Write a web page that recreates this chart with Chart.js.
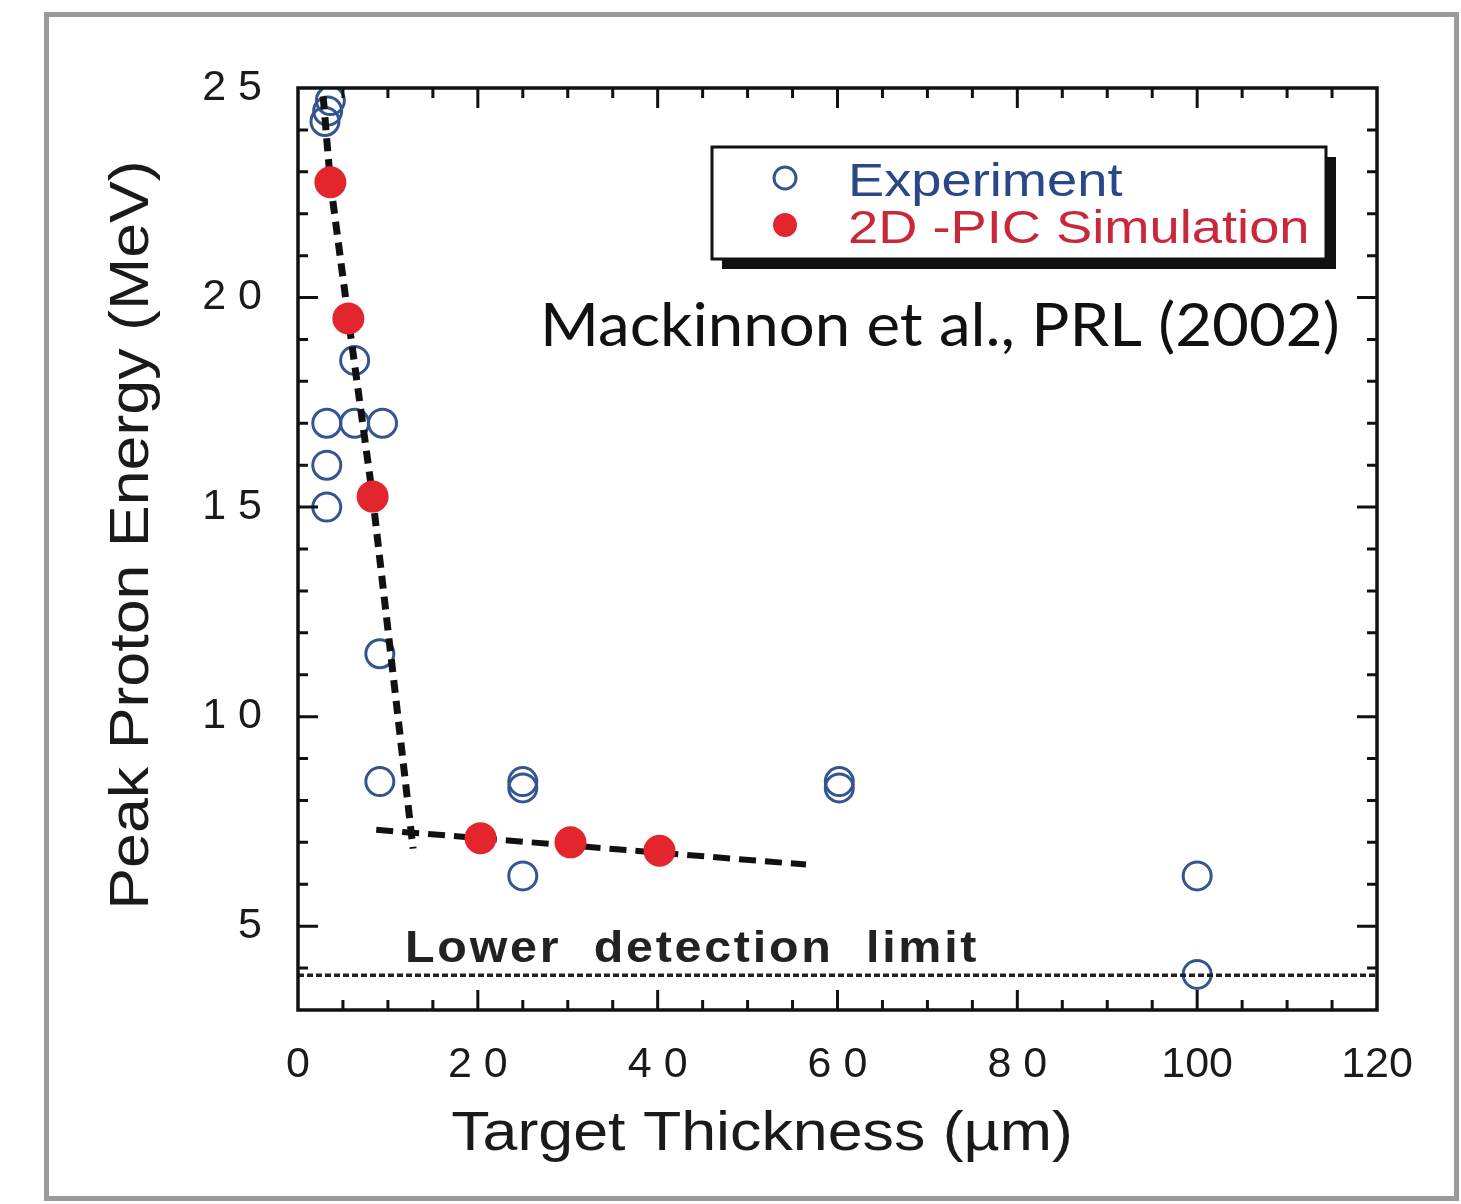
<!DOCTYPE html>
<html>
<head>
<meta charset="utf-8">
<script src="https://cdn.jsdelivr.net/npm/chart.js@4.4.1/dist/chart.umd.min.js"></script>
<style>
  html, body { margin: 0; padding: 0; background: #fff; }
  canvas { display: block; }
</style>
</head>
<body>
<canvas id="proton-chart" width="1461" height="1204"></canvas>
<script>
// values
const expX = [3.0, 3.3, 3.6, 6.3, 3.2, 6.3, 9.4, 3.2, 3.2, 9.1, 9.1, 25.0, 25.0, 25.0, 60.2, 60.2, 100.0, 100.0];
const expY = [24.2, 24.45, 24.7, 18.5, 17.0, 17.0, 17.0, 16.0, 15.0, 11.5, 8.45, 8.45, 8.3, 6.2, 8.45, 8.3, 6.2, 3.85];

const simX = [3.6, 5.6, 8.3, 20.3, 30.3, 40.2];
const simY = [22.75, 19.5, 15.25, 7.1, 7.0, 6.8];

// dashed guide lines
const steepX = [2.8, 3.6, 5.6, 8.3, 12.8];
const steepY = [24.8, 22.75, 19.5, 15.25, 6.85];
const flatX = [8.7, 56.5];
const flatY = [7.3, 6.47];

const limitX = [0, 120];
const limitY = [3.83, 3.83];

const xTickValues = [0, 20, 40, 60, 80, 100, 120];
const xTickLabels = ['0', '2 0', '4 0', '6 0', '8 0', '100', '120'];
const yTickValues = [5, 10, 15, 20, 25];
const yTickLabels = ['5', '1 0', '1 5', '2 0', '2 5'];

const toPoints = (xs, ys) => xs.map((x, i) => ({ x: x, y: ys[i] }));

const FONT = '"Liberation Sans", Arial, Helvetica, sans-serif';

function stretchText(ctx, text, x, y, sx, rot) {
	ctx.save();
	ctx.translate(x, y);
	if (rot) ctx.rotate(rot);
	ctx.scale(sx, 1);
	ctx.fillText(text, 0, 0);
	ctx.restore();
}

const decorPlugin = {
	id: 'decor',
	beforeDraw(chart) {
		const ctx = chart.ctx;
		ctx.save();
		ctx.fillStyle = '#fff';
		ctx.fillRect(0, 0, chart.width, chart.height);
		// grey outer frame
		ctx.strokeStyle = '#9a9a9a';
		ctx.lineWidth = 5;
		ctx.strokeRect(46.5, 14.5, 1410, 1184);
		ctx.restore();
	},
	afterDraw(chart) {
		const ctx = chart.ctx;
		const xs = chart.scales.x, ys = chart.scales.y;
		const a = chart.chartArea;
		ctx.save();

		// inward ticks on all four sides
		ctx.strokeStyle = '#111';
		ctx.lineWidth = 3;
		ctx.beginPath();
		for (let v = 5; v < 120; v += 5) {
			const px = xs.getPixelForValue(v);
			const len = v % 20 === 0 ? 20 : 10;
			ctx.moveTo(px, a.bottom); ctx.lineTo(px, a.bottom - len);
			ctx.moveTo(px, a.top); ctx.lineTo(px, a.top + len);
		}
		for (let v = 4; v < 25; v += 1) {
			const py = ys.getPixelForValue(v);
			const len = v % 5 === 0 ? 20 : 10;
			ctx.moveTo(a.left, py); ctx.lineTo(a.left + len, py);
			ctx.moveTo(a.right, py); ctx.lineTo(a.right - len, py);
		}
		ctx.stroke();

		// axis box
		ctx.lineWidth = 3.5;
		ctx.strokeRect(a.left, a.top, a.right - a.left, a.bottom - a.top);

		// axis titles
		ctx.fillStyle = '#1a1a1a';
		ctx.font = '56px ' + FONT;
		ctx.textAlign = 'center';
		ctx.textBaseline = 'alphabetic';
		stretchText(ctx, 'Target Thickness (\u00b5m)', 762, 1150, 1.12);
		stretchText(ctx, 'Peak Proton Energy (MeV)', 148, 535, 1.12, -Math.PI / 2);

		// detection limit label
		ctx.fillStyle = '#222';
		ctx.font = 'bold 44px ' + FONT;
		ctx.textAlign = 'left';
		ctx.letterSpacing = '2.5px';
		stretchText(ctx, 'Lower  detection  limit', 405, 962, 1.1);
		ctx.letterSpacing = '0px';

		// legend box with shadow
		const bx = 712, by = 147, bw = 614, bh = 112;
		ctx.fillStyle = '#111';
		ctx.fillRect(bx + 10, by + 10, bw, bh);
		ctx.fillStyle = '#fff';
		ctx.fillRect(bx, by, bw, bh);
		ctx.strokeStyle = '#111';
		ctx.lineWidth = 3;
		ctx.strokeRect(bx, by, bw, bh);

		const dsExp = chart.data.datasets[0];
		const dsSim = chart.data.datasets[1];
		ctx.lineWidth = 3;
		ctx.strokeStyle = dsExp.borderColor;
		ctx.beginPath();
		ctx.arc(785, 178, 11, 0, Math.PI * 2);
		ctx.stroke();
		ctx.fillStyle = dsSim.backgroundColor;
		ctx.beginPath();
		ctx.arc(785, 225, 12, 0, Math.PI * 2);
		ctx.fill();

		ctx.font = '46px ' + FONT;
		ctx.textAlign = 'left';
		ctx.fillStyle = '#2b4787';
		stretchText(ctx, dsExp.label, 848, 196, 1.18);
		ctx.fillStyle = '#c9283a';
		stretchText(ctx, dsSim.label, 848, 243, 1.18);

		// citation
		ctx.fillStyle = '#111';
		ctx.font = '60px Lato, "Open Sans", sans-serif';
		stretchText(ctx, 'Mackinnon et al., PRL (2002)', 540, 346, 1.06);

		ctx.restore();
	}
};

const ctx = document.getElementById('proton-chart').getContext('2d');

new Chart(ctx, {
	type: 'scatter',
	data: {
		datasets: [
			{
				label: 'Experiment',
				data: toPoints(expX, expY),
				pointStyle: 'circle',
				pointRadius: 14,
				pointBorderWidth: 3,
				borderColor: '#34558f',
				backgroundColor: 'rgba(0,0,0,0)',
				order: 3
			},
			{
				label: '2D -PIC Simulation',
				data: toPoints(simX, simY),
				pointRadius: 16,
				pointBorderWidth: 0,
				borderColor: '#e3262d',
				backgroundColor: '#e3262d',
				order: 0
			},
			{
				label: 'steep fit',
				data: toPoints(steepX, steepY),
				showLine: true,
				pointRadius: 0,
				borderColor: '#111',
				borderWidth: 7,
				borderDash: [13, 8],
				order: 1
			},
			{
				label: 'flat fit',
				data: toPoints(flatX, flatY),
				showLine: true,
				pointRadius: 0,
				borderColor: '#111',
				borderWidth: 6,
				borderDash: [17, 9],
				order: 1
			},
			{
				label: 'Lower detection limit',
				data: toPoints(limitX, limitY),
				showLine: true,
				pointRadius: 0,
				borderColor: '#222',
				borderWidth: 3.5,
				borderDash: [6, 3],
				order: 2
			}
		]
	},
	options: {
		responsive: false,
		animation: false,
		layout: { padding: { left: 0, top: 88, right: 84, bottom: 0 } },
		plugins: {
			legend: { display: false },
			tooltip: { enabled: false }
		},
		scales: {
			x: {
				type: 'linear',
				min: 0,
				max: 120,
				afterFit: (s) => { s.height = 194; },
				afterBuildTicks: (s) => { s.ticks = xTickValues.map(v => ({ value: v })); },
				ticks: {
					autoSkip: false,
					maxRotation: 0,
					padding: 29,
					color: '#1a1a1a',
					font: { family: FONT, size: 43 },
					callback: (v, i) => xTickLabels[i]
				},
				grid: { display: false, drawTicks: false },
				border: { display: false }
			},
			y: {
				type: 'linear',
				min: 3,
				max: 25,
				afterFit: (s) => { s.width = 298; },
				afterBuildTicks: (s) => { s.ticks = yTickValues.map(v => ({ value: v })); },
				ticks: {
					autoSkip: false,
					padding: 36,
					color: '#1a1a1a',
					font: { family: FONT, size: 43 },
					callback: (v, i) => yTickLabels[i]
				},
				grid: { display: false, drawTicks: false },
				border: { display: false }
			}
		}
	},
	plugins: [decorPlugin]
});
</script>
</body>
</html>
